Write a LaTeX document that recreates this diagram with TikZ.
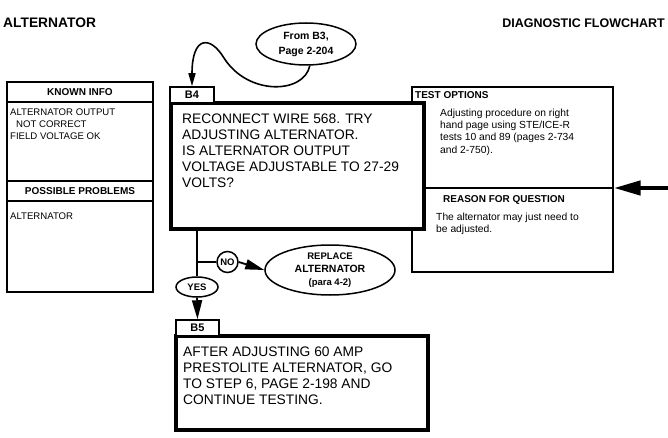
\documentclass[tikz,border=0pt]{standalone}
\usepackage{fontspec}
\setmainfont{Liberation Sans}
\usetikzlibrary{arrows.meta,shapes.geometric}
\begin{document}
\begin{tikzpicture}[x=1pt,y=-1pt,
 titletext/.style={font=\bfseries\fontsize{12.5}{14}\selectfont, inner sep=0},
 thinbox/.style={draw, line width=1.4pt, inner sep=0},
 thickbox/.style={draw, line width=3.6pt, fill=white, inner sep=0},
 headtext/.style={font=\bfseries\fontsize{10}{12}\selectfont, inner sep=0},
 smalltext/.style={font=\fontsize{9.6}{12}\selectfont, inner sep=0, anchor=north west, align=left},
 bigtext/.style={font=\fontsize{13.8}{16}\selectfont, inner sep=0, anchor=north west, align=left},
 labbox/.style={draw, line width=1.5pt, fill=white, font=\bfseries\fontsize{11}{12}\selectfont, inner sep=0},
 ovalnode/.style={draw, ellipse, line width=1.5pt, fill=white, inner sep=0, align=center, font=\bfseries\fontsize{10.5}{15}\selectfont},
 flowline/.style={line width=1.8pt},
 flowarrow/.style={line width=1.8pt, -{Triangle[length=19pt,width=10pt]}}
]
\useasboundingbox (0,0) rectangle (668,438);

% titles
\node[titletext, anchor=west, font=\bfseries\fontsize{13.8}{15}\selectfont] (t1) at (3,23) {ALTERNATOR};
\node[titletext, anchor=east] (t2) at (665,23) {DIAGNOSTIC FLOWCHART};

% left info box
\node[thinbox, minimum width=146pt, minimum height=210pt] (known) at (80,187) {};
\draw[line width=1.4pt] (known.west |- 0,102) -- (known.east |- 0,102);
\draw[line width=1.4pt] (known.west |- 0,181) -- (known.east |- 0,181);
\draw[line width=1.4pt] (known.west |- 0,201) -- (known.east |- 0,201);
\node[headtext] (kh) at (80,92) {KNOWN INFO};
\node[smalltext] (kt) at (10,109) {ALTERNATOR OUTPUT\\\hspace*{6pt}NOT CORRECT\\FIELD VOLTAGE OK};
\node[headtext] (ph) at (80,191) {POSSIBLE PROBLEMS};
\node[smalltext] (pt) at (10,213) {ALTERNATOR};

% test options box
\node[thinbox, minimum width=201pt, minimum height=185pt] (test) at (512.5,179.5) {};
\draw[line width=1.4pt] (test.west |- 0,188) -- (test.east |- 0,188);
\node[headtext, anchor=west] (th) at (415,95) {TEST OPTIONS};
\node[smalltext, font=\fontsize{10.3}{12.3}\selectfont] (tt) at (440,108.5) {Adjusting procedure on right\\hand page using STE/ICE-R\\tests 10 and 89 (pages 2-734\\and 2-750).};
\node[headtext, anchor=west] (rh) at (443,200) {REASON FOR QUESTION};
\node[smalltext, font=\fontsize{10.3}{12.3}\selectfont] (rt) at (436,212.5) {The alternator may just need to\\be adjusted.};
\coordinate (rin) at (668,188);
\draw[line width=4.5pt, -{Triangle[length=27pt,width=14pt]}] (rin) -- (test.east |- 0,188);

% B4
\node[thickbox, minimum width=253pt, minimum height=126pt] (b4) at (297.5,166) {};
\node[labbox, minimum width=44pt, minimum height=16pt] (b4lab) at (192,95) {B4};
\node[bigtext] (b4t) at (182,114) {RECONNECT WIRE 568. TRY\\ADJUSTING ALTERNATOR.\\IS ALTERNATOR OUTPUT\\VOLTAGE ADJUSTABLE TO 27-29\\VOLTS?};

% From B3 oval
\node[ovalnode, minimum width=100pt, minimum height=42pt] (from) at (306,44) {From B3,\\Page 2-204};
\draw[line width=1.6pt, -{Triangle[length=13pt,width=7pt]}] (from.-80) .. controls (304,94) and (248,96) .. (224,58) .. controls (210,35) and (192,36) .. (b4lab.north);

% decisions
\node[ovalnode, minimum width=42pt, minimum height=20pt, font=\bfseries\fontsize{9.5}{10}\selectfont] (yes) at (197,287) {YES};
\node[draw, circle, line width=1.5pt, minimum size=21pt, inner sep=0, font=\bfseries\fontsize{9.5}{10}\selectfont] (no) at (227.5,262) {NO};
\node[ovalnode, minimum width=130pt, minimum height=50pt, font=\bfseries\fontsize{9.5}{13}\selectfont] (repl) at (330,270) {REPLACE\\{\fontsize{10.5}{13}\selectfont ALTERNATOR}\\(para 4-2)};
\draw[flowline] (b4.south -| yes.north) -- (yes.north);
\draw[flowline] (197,262) -- (no.west);
\draw[flowarrow] (no.east) -- (repl.west);

% B5
\node[thickbox, minimum width=252pt, minimum height=94pt] (b5) at (302,383) {};
\node[labbox, minimum width=43pt, minimum height=16pt] (b5lab) at (197.5,328) {B5};
\node[bigtext] (b5t) at (183,347) {AFTER ADJUSTING 60 AMP\\PRESTOLITE ALTERNATOR, GO\\TO STEP 6, PAGE 2-198 AND\\CONTINUE TESTING.};
\draw[flowarrow] (yes.south) -- (b5lab.north);
\end{tikzpicture}
\end{document}
